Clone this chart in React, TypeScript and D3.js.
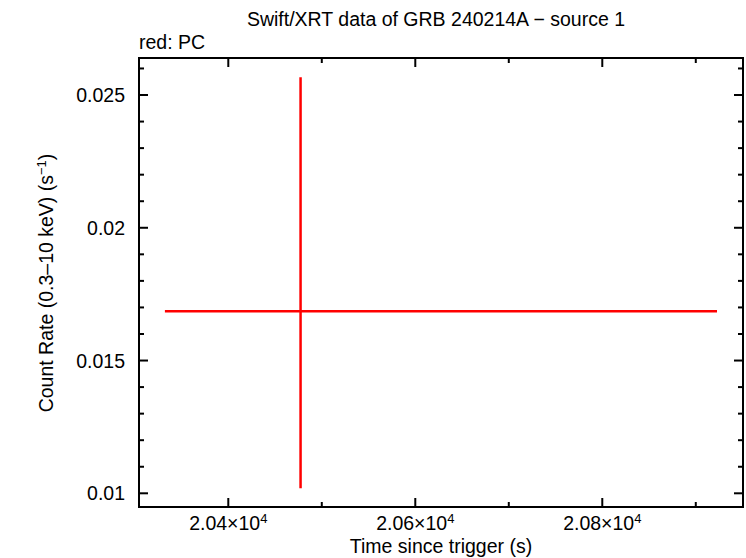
import React from 'react'
import * as d3 from 'd3'

// one PC-mode point: time, error bars, rate, error bars
const times = [20477.3]
const timeLo = [20332.2]
const timeHi = [20922.7]
const rates = [0.016853]
const rateLo = [0.01019]
const rateHi = [0.025667]

const xMajor = [20400, 20600, 20800]
const xMantissa = ['2.04', '2.06', '2.08']
const yMajor = [0.01, 0.015, 0.02, 0.025]
const yLabels = ['0.01', '0.015', '0.02', '0.025']

const width = 746
const height = 558
const margin = { left: 139, right: 3, top: 58, bottom: 51 }
const font = "'Liberation Sans', Arial, Helvetica, sans-serif"
const fs = 19.5

function App() {
    const x = d3.scaleLinear()
        .domain([20304.5, 20950.5])
        .range([margin.left, width - margin.right])
    const y = d3.scaleLinear()
        .domain([0.009484, 0.026394])
        .range([height - margin.bottom, margin.top])

    const x0 = margin.left, x1 = width - margin.right
    const y0 = margin.top, y1 = height - margin.bottom

    const xMinor = d3.range(20400, 20951, 100).filter(v => !xMajor.includes(v))
    const yMinor = d3.range(10, 27).map(v => v / 1000).filter(v => !yMajor.some(m => Math.abs(m - v) < 1e-9))

    return (
        <svg width={width} height={height} style={{ position: 'absolute', left: 0, top: 0, background: '#fff' }}
            fontFamily={font}>
            <rect width={width} height={height} fill="#fff" />
            <text x={436} y={26} textAnchor="middle" fontSize={fs}>Swift/XRT data of GRB 240214A − source 1</text>
            <text x={x0} y={49} fontSize={fs}>red: PC</text>

            {/* ticks */}
            <g stroke="#000" strokeWidth={2}>
                {xMajor.map(v => (
                    <g key={'xm' + v}>
                        <line x1={x(v)} x2={x(v)} y1={y1} y2={y1 - 9} />
                        <line x1={x(v)} x2={x(v)} y1={y0} y2={y0 + 9} />
                    </g>
                ))}
                {xMinor.map(v => (
                    <g key={'xn' + v}>
                        <line x1={x(v)} x2={x(v)} y1={y1} y2={y1 - 5} />
                        <line x1={x(v)} x2={x(v)} y1={y0} y2={y0 + 5} />
                    </g>
                ))}
                {yMajor.map(v => (
                    <g key={'ym' + v}>
                        <line x1={x0} x2={x0 + 9} y1={y(v)} y2={y(v)} />
                        <line x1={x1} x2={x1 - 9} y1={y(v)} y2={y(v)} />
                    </g>
                ))}
                {yMinor.map(v => (
                    <g key={'yn' + v}>
                        <line x1={x0} x2={x0 + 5} y1={y(v)} y2={y(v)} />
                        <line x1={x1} x2={x1 - 5} y1={y(v)} y2={y(v)} />
                    </g>
                ))}
            </g>

            {/* data */}
            <g stroke="#ff0000" strokeWidth={2.5}>
                {times.map((t, i) => (
                    <g key={i}>
                        <line x1={x(timeLo[i])} x2={x(timeHi[i])} y1={y(rates[i])} y2={y(rates[i])} />
                        <line x1={x(t)} x2={x(t)} y1={y(rateLo[i])} y2={y(rateHi[i])} />
                    </g>
                ))}
            </g>

            <rect x={x0} y={y0} width={x1 - x0} height={y1 - y0} fill="none" stroke="#000" strokeWidth={2} />

            {/* tick labels */}
            {xMajor.map((v, i) => (
                <text key={'xl' + v} x={x(v)} y={y1 + 23} textAnchor="middle" fontSize={fs}>
                    {xMantissa[i]}×10<tspan fontSize={13} dy={-7}>4</tspan>
                </text>
            ))}
            {yMajor.map((v, i) => (
                <text key={'yl' + v} x={x0 - 14} y={y(v) + 7} textAnchor="end" fontSize={fs}>{yLabels[i]}</text>
            ))}

            <text x={441} y={553} textAnchor="middle" fontSize={fs}>Time since trigger (s)</text>
            <text transform={`translate(53,${283}) rotate(-90)`} textAnchor="middle" fontSize={fs}>
                Count Rate (0.3–10 keV) (s<tspan fontSize={13} dy={-7}>−1</tspan><tspan dy={7}>)</tspan>
            </text>
        </svg>
    )
}

export default App
